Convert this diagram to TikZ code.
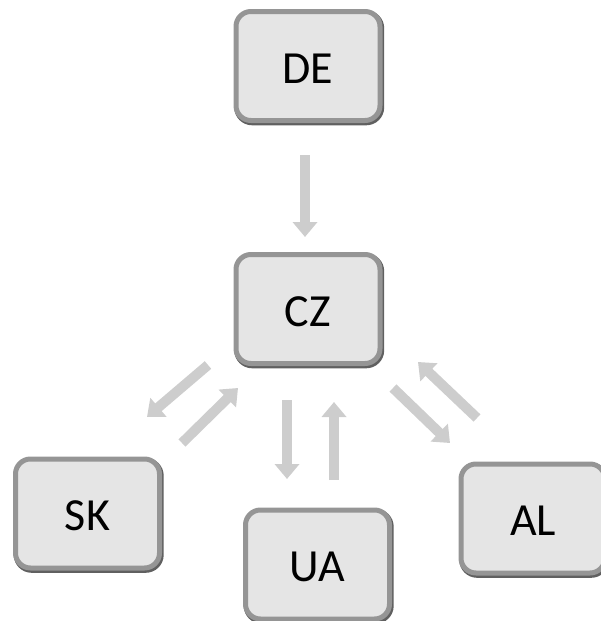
\documentclass[tikz,border=0pt]{standalone}
\usepackage{fontspec}
\setmainfont{Carlito}
\usetikzlibrary{arrows.meta}
\definecolor{boxfill}{HTML}{E5E5E5}
\definecolor{boxedge}{HTML}{959595}
\definecolor{boxdark}{HTML}{606060}
\definecolor{arrowgray}{HTML}{CDCDCD}
\begin{document}
\begin{tikzpicture}[x=1pt,y=-1pt,
  box/.style={rounded corners=15pt, minimum width=144pt, minimum height=109pt,
    fill=boxfill, draw=boxedge, line width=5pt, inner sep=0pt,
    text height=34pt, text depth=0pt,
    font=\fontsize{46}{55}\selectfont,
    preaction={draw=boxdark, line width=6pt, transform canvas={shift={(1.2pt,-1.8pt)}}}},
  blockarrow/.style={line width=10pt, draw=arrowgray, -{Triangle[width=24pt,length=15pt]}}]
\useasboundingbox (0,0) rectangle (601,621);
\node[box] (DE) at (308,66) {DE};
\node[box] (CZ) at (308,309) {CZ};
\node[box] (SK) at (87.5,513.5) {SK};
\node[box] (UA) at (317.5,564.5) {UA};
\node[box] (AL) at (533,518.5) {AL};
\coordinate (a1s) at (305,155); \coordinate (a1e) at (305,237);
\coordinate (a2s) at (208,365); \coordinate (a2e) at (147,417);
\coordinate (a3s) at (182,443); \coordinate (a3e) at (238,388);
\coordinate (a4s) at (287,400); \coordinate (a4e) at (287,479);
\coordinate (a5s) at (334,480); \coordinate (a5e) at (334,402);
\coordinate (a6s) at (477,418); \coordinate (a6e) at (418,362);
\coordinate (a7s) at (393,388); \coordinate (a7e) at (450,443);
\draw[blockarrow] (a1s) -- (a1e);
\draw[blockarrow] (a2s) -- (a2e);
\draw[blockarrow] (a3s) -- (a3e);
\draw[blockarrow] (a4s) -- (a4e);
\draw[blockarrow] (a5s) -- (a5e);
\draw[blockarrow] (a6s) -- (a6e);
\draw[blockarrow] (a7s) -- (a7e);
\end{tikzpicture}
\end{document}
